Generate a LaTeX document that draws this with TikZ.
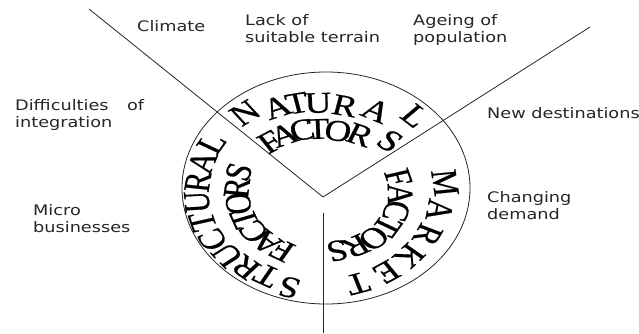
\documentclass[tikz,border=0pt]{standalone}
\usepackage{fontspec}
\usetikzlibrary{shapes.geometric}
\newfontfamily\labfont[FakeStretch=1.22]{DejaVu Sans}
\newfontfamily\arcfont[FakeBold=0.6]{Liberation Serif}
\begin{document}
\begin{tikzpicture}[x=1pt,y=1pt,
  lab/.style={font=\labfont\fontsize{14.5}{17}\selectfont, anchor=north west, inner sep=0pt, align=left, text=black!85},
  arcl/.style={font=\arcfont\fontsize{30}{30}\selectfont, inner sep=0pt, anchor=center},
  edge/.style={draw=black!85, line width=0.8pt}]
\useasboundingbox (0,0) rectangle (639,-333);
\fill[white] (0,0) rectangle (639,-333);

% lines
\coordinate (v) at (323,-197);
\coordinate (a0) at (89,-9);
\coordinate (b0) at (590,-27);
\coordinate (c0) at (323,-213);
\coordinate (c1) at (323,-333);
\draw[edge] (a0) -- (v) -- (b0);
\draw[edge] (c0) -- (c1);

% ring
\node[ellipse, draw=black!85, line width=0.8pt, minimum width=288pt, minimum height=232pt, inner sep=0pt] (ring) at (326,-188) {};

% curved words
\begin{scope}[shift={(322,-195)}, xscale=1.24, transform shape]
\foreach \ch/\ang/\r/\rot [count=\i] in {N/127.1/103/37, A/112.4/95/22, T/102.4/94/12, U/92/92/2, R/78.3/91/-12, A/62.6/95/-27, L/46.5/109/-43.5}
  \node[arcl, rotate=\rot] (nat\i) at (\ang:\r) {\ch};
\foreach \ch/\ang/\r/\rot [count=\i] in {F/128.3/67.6/33, A/117/67.4/23, C/103.9/67/12, T/92.8/66.1/2, O/78.6/65.3/-9, R/63/67.4/-22, S/44.6/77/-38}
  \node[arcl, rotate=\rot] (nfa\i) at (\ang:\r) {\ch};
\foreach \ch/\ang/\r/\rot [count=\i] in {S/254/96/164, T/241/92/151, R/229.6/95/139.6, U/218.2/97/128.2, C/206.8/99/116.8, T/195.4/100/105.4, U/184/101/94, R/172.6/101/82.6, A/161.2/102/71.2, L/149.8/103/59.8}
  \node[arcl, rotate=\rot] (str\i) at (\ang:\r) {\ch};
\foreach \ch/\ang/\r/\rot [count=\i] in {F/240/64/150, A/226.8/65/136.8, C/213.6/66/123.6, T/200.4/67/110.4, O/187.2/68/97.2, R/174/69/84, S/161/71/71}
  \node[arcl, rotate=\rot] (sfa\i) at (\ang:\r) {\ch};
\foreach \ch/\ang/\r/\rot [count=\i] in {M/7/100/-83, A/-9/96/-99, R/-25/94/-115, K/-41/93/-131, E/-56/93/-146, T/-72/93/-162}
  \node[arcl, rotate=\rot] (mkt\i) at (\ang:\r) {\ch};
\foreach \ch/\ang/\r/\rot [count=\i] in {F/16/64/-74, A/0.5/63/-89.5, C/-15/62/-105, T/-30.5/61/-120.5, O/-46/60/-136, R/-62/58/-152, S/-77.5/57/-167.5}
  \node[arcl, rotate=\rot] (mfa\i) at (\ang:\r) {\ch};
\end{scope}

% labels
\node[lab] (climate) at (137,-20.5) {Climate};
\node[lab] (terrain) at (245,-14.5) {Lack of\\suitable terrain};
\node[lab] (ageing) at (413,-14.5) {Ageing of\\population};
\node[lab] (integ) at (15,-99.5) {Difficulties\hspace{18.5pt}of\\integration};
\node[lab] (newdest) at (487,-107.5) {New destinations};
\node[lab] (demand) at (487,-191.5) {Changing\\demand};
\node[lab] (micro) at (33,-204.5) {Micro\\businesses};
\end{tikzpicture}
\end{document}
